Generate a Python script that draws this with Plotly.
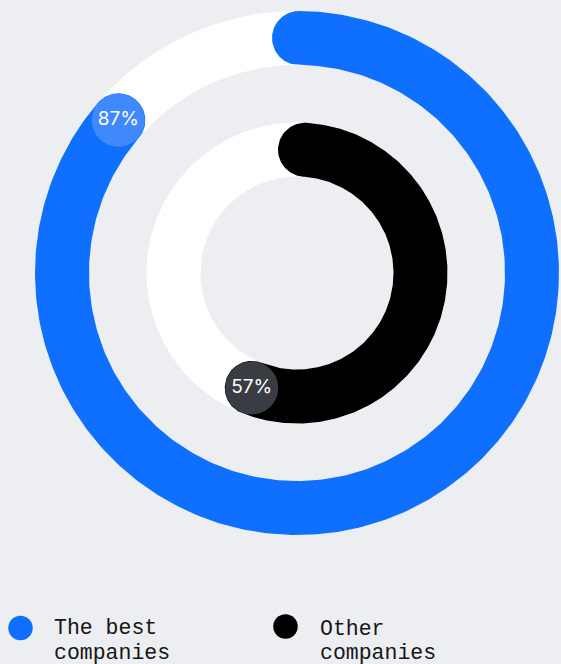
import numpy as np
import plotly.graph_objects as go

# ---- data ----
series_names = ["The best companies", "Other companies"]
legend_lines = [["The best", "companies"], ["Other", "companies"]]
values = [87, 57]
value_labels = ["87%", "57%"]

# ---- style ----
bar_colors = ["#0f6fff", "#000000"]
badge_colors = ["#3f89fd", "#393c43"]
bg = "#eceef1"
W, H = 561, 664
cx, cy = 297, 273
mid_radii = [235, 123.5]
half_w = 27
start_inset_px = [2, 8]
end_inset_px = [11, 8]

def P(a, r):
    return cx + r * np.sin(a), cy - r * np.cos(a)

def arc_polygon(a0, a1, rm, w):
    xs, ys = [], []
    a = np.linspace(a0, a1, 300)
    ox, oy = P(a, rm + w)
    xs += list(ox); ys += list(oy)
    ur = np.array([np.sin(a1), -np.cos(a1)])
    ut = np.array([np.cos(a1), np.sin(a1)])
    ex, ey = P(a1, rm)
    t = np.linspace(0, np.pi, 60)
    xs += list(ex + w * (np.cos(t) * ur[0] + np.sin(t) * ut[0]))
    ys += list(ey + w * (np.cos(t) * ur[1] + np.sin(t) * ut[1]))
    ix, iy = P(a[::-1], rm - w)
    xs += list(ix); ys += list(iy)
    ur0 = np.array([np.sin(a0), -np.cos(a0)])
    ut0 = np.array([np.cos(a0), np.sin(a0)])
    sx, sy = P(a0, rm)
    xs += list(sx + w * (-np.cos(t) * ur0[0] - np.sin(t) * ut0[0]))
    ys += list(sy + w * (-np.cos(t) * ur0[1] - np.sin(t) * ut0[1]))
    return xs, ys

fig = go.Figure()
shapes = []
for rm in mid_radii:
    shapes.append(dict(type="circle", xref="x", yref="y", layer="below",
                       x0=cx - rm, x1=cx + rm, y0=cy - rm, y1=cy + rm,
                       line=dict(color="white", width=2 * half_w)))

ends = []
for i, v in enumerate(values):
    rm = mid_radii[i]
    a0 = start_inset_px[i] / rm
    a1 = v / 100 * 2 * np.pi - end_inset_px[i] / rm
    ends.append(a1)
    xs, ys = arc_polygon(a0, a1, rm, half_w)
    fig.add_trace(go.Scatter(x=xs, y=ys, mode="lines", fill="toself",
                             fillcolor=bar_colors[i], line=dict(width=0, color=bar_colors[i]),
                             hoverinfo="skip", showlegend=False, name=series_names[i]))
for i, v in enumerate(values):
    bx, by = P(ends[i], mid_radii[i])
    fig.add_trace(go.Scatter(x=[bx], y=[by], mode="markers+text",
                             marker=dict(size=53, color=badge_colors[i], line=dict(width=0)),
                             text=[value_labels[i]], textposition="middle center",
                             textfont=dict(family="Inter", size=19, color="white"),
                             hoverinfo="skip", showlegend=False))

# legend
leg_x = [20.5, 285.5]
leg_y = [628, 626.5]
text_x = [51.5, 317.5]
line_y = [[627.6, 652.5], [628.6, 652.8]]
annotations = []
for i in range(len(series_names)):
    fig.add_trace(go.Scatter(x=[leg_x[i]], y=[leg_y[i]], mode="markers",
                             marker=dict(size=24.5, color=bar_colors[i], line=dict(width=0)),
                             hoverinfo="skip", showlegend=False))
    for j, ln in enumerate(legend_lines[i]):
        annotations.append(dict(x=text_x[i], y=line_y[i][j], xref="x", yref="y",
                                text=ln, showarrow=False, xanchor="left",
                                yanchor="middle", align="left",
                                font=dict(family="Liberation Mono", size=21.5, color="#161616")))

fig.update_layout(
    width=W, height=H, margin=dict(l=0, r=0, t=0, b=0),
    paper_bgcolor=bg, plot_bgcolor=bg,
    xaxis=dict(range=[0, W], visible=False, fixedrange=True),
    yaxis=dict(range=[H, 0], visible=False, fixedrange=True),
    shapes=shapes, annotations=annotations, showlegend=False,
)
fig.write_html("out.html", config={"displayModeBar": False},
               post_script="document.body.style.margin='0';")
